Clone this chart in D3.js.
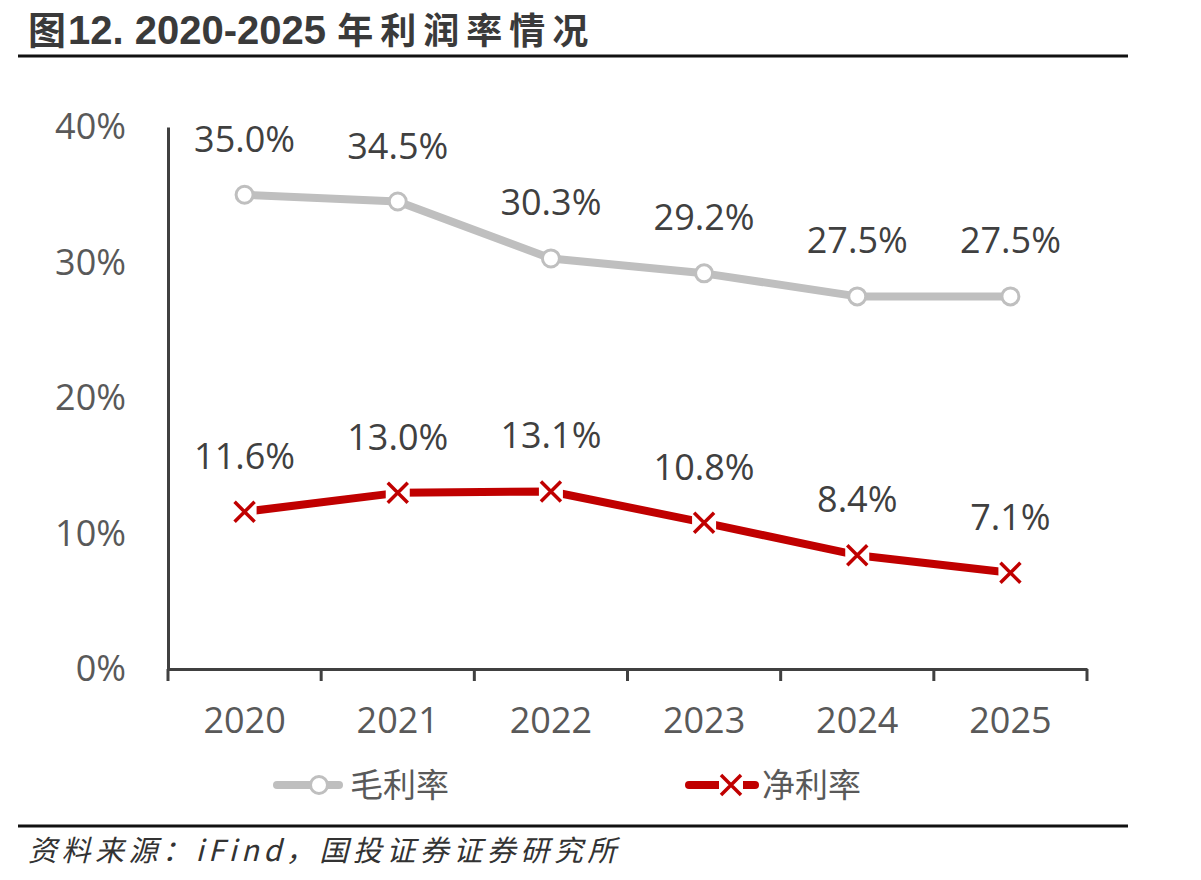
<!DOCTYPE html>
<html>
<head>
<meta charset="utf-8">
<script src="https://cdn.jsdelivr.net/npm/d3@7"></script>
<style>
  body { margin: 0; background: #fff; }
  svg { display: block; }
</style>
</head>
<body>
<script>
// data
var years = ["2020", "2021", "2022", "2023", "2024", "2025"];
var grossMargin = [35.0, 34.5, 30.3, 29.2, 27.5, 27.5];
var netMargin = [11.6, 13.0, 13.1, 10.8, 8.4, 7.1];
var yTicks = [0, 10, 20, 30, 40];

var W = 1201, H = 880;
var numFont = "'Open Sans', 'Noto Sans', sans-serif";
var cjkFont = "'Noto Sans CJK SC', sans-serif";

var svg = d3.select("body").append("svg")
  .attr("width", W)
  .attr("height", H);

// title + rules
var title = svg.append("text")
  .attr("x", 28)
  .attr("y", 44)
  .attr("font-family", "'Liberation Sans', 'Noto Sans CJK SC', sans-serif")
  .attr("font-weight", "bold")
  .attr("fill", "#3a3a3a");
title.append("tspan")
  .attr("font-family", cjkFont)
  .attr("font-size", 38)
  .text("图");
title.append("tspan")
  .attr("font-size", 40)
  .attr("dx", 2)
  .text("12. 2020-2025 ");
title.append("tspan")
  .attr("font-family", cjkFont)
  .attr("font-size", 36)
  .attr("letter-spacing", 7)
  .text("年利润率情况");

svg.append("line")
  .attr("x1", 18).attr("x2", 1128)
  .attr("y1", 56).attr("y2", 56)
  .attr("stroke", "#111").attr("stroke-width", 3);

svg.append("line")
  .attr("x1", 18).attr("x2", 1128)
  .attr("y1", 826).attr("y2", 826)
  .attr("stroke", "#111").attr("stroke-width", 3);

svg.append("text")
  .attr("x", 28)
  .attr("y", 861)
  .attr("font-family", cjkFont)
  .attr("font-style", "italic")
  .attr("font-size", 29)
  .attr("letter-spacing", 4.5)
  .attr("fill", "#333")
  .text("资料来源：iFind，国投证券证券研究所");

// scales
var x = d3.scaleBand()
  .domain(years)
  .range([168, 1087]);

var y = d3.scaleLinear()
  .domain([0, 40])
  .range([669, 127]);

var cx = function (d, i) { return x(years[i]) + x.bandwidth() / 2; };

// y axis: just a line + labels
var yAxis = svg.append("g")
  .attr("transform", "translate(168,0)")
  .call(d3.axisLeft(y).tickValues(yTicks).tickSize(0).tickPadding(42)
    .tickFormat(function (d) { return d + "%"; }));
yAxis.select(".domain").attr("stroke", "#404040").attr("stroke-width", 3);
yAxis.selectAll("text")
  .attr("font-family", numFont)
  .attr("font-size", 36)
  .attr("fill", "#595959");

// x axis
var xAxis = svg.append("g")
  .attr("transform", "translate(0,669)")
  .call(d3.axisBottom(x).tickSize(0).tickPadding(38));
xAxis.select(".domain").attr("stroke", "#404040").attr("stroke-width", 3);
xAxis.selectAll("text")
  .attr("font-family", numFont)
  .attr("font-size", 36)
  .attr("fill", "#595959");

// x tick marks at band boundaries
var bounds = years.map(function (d) { return x(d); }).concat([x.range()[1]]);
svg.append("g").selectAll("line")
  .data(bounds)
  .enter()
  .append("line")
  .attr("x1", function (d) { return d; })
  .attr("x2", function (d) { return d; })
  .attr("y1", 669)
  .attr("y2", 681)
  .attr("stroke", "#404040")
  .attr("stroke-width", 3);

var line = d3.line()
  .x(cx)
  .y(function (d) { return y(d); });

// gross margin
svg.append("path")
  .datum(grossMargin)
  .attr("d", line)
  .attr("fill", "none")
  .attr("stroke", "#bfbfbf")
  .attr("stroke-width", 8)
  .attr("stroke-linejoin", "round");

svg.append("g").selectAll("circle")
  .data(grossMargin)
  .enter()
  .append("circle")
  .attr("cx", cx)
  .attr("cy", function (d) { return y(d); })
  .attr("r", 8.5)
  .attr("fill", "#fff")
  .attr("stroke", "#bfbfbf")
  .attr("stroke-width", 3);

// net margin
svg.append("path")
  .datum(netMargin)
  .attr("d", line)
  .attr("fill", "none")
  .attr("stroke", "#c00000")
  .attr("stroke-width", 8)
  .attr("stroke-linejoin", "round");

function drawCross(g, px, py) {
  g.append("rect")
    .attr("x", px - 12).attr("y", py - 12)
    .attr("width", 24).attr("height", 24)
    .attr("fill", "#fff");
  g.append("path")
    .attr("d", "M" + (px - 10) + "," + (py - 10) + "L" + (px + 10) + "," + (py + 10) +
      "M" + (px + 10) + "," + (py - 10) + "L" + (px - 10) + "," + (py + 10))
    .attr("stroke", "#c00000")
    .attr("stroke-width", 3.5)
    .attr("fill", "none");
}

var crosses = svg.append("g");
netMargin.forEach(function (d, i) {
  drawCross(crosses, cx(d, i), y(d));
});

// data labels
function addLabels(data) {
  svg.append("g").selectAll("text")
    .data(data)
    .enter()
    .append("text")
    .attr("x", cx)
    .attr("y", function (d) { return y(d) - 43; })
    .attr("text-anchor", "middle")
    .attr("font-family", numFont)
    .attr("font-size", 36)
    .attr("fill", "#404040")
    .text(function (d) { return d.toFixed(1) + "%"; });
}
addLabels(grossMargin);
addLabels(netMargin);

// legend
var lg = svg.append("g");
lg.append("line")
  .attr("x1", 277).attr("x2", 339)
  .attr("y1", 785).attr("y2", 785)
  .attr("stroke", "#bfbfbf").attr("stroke-width", 8)
  .attr("stroke-linecap", "round");
lg.append("circle")
  .attr("cx", 319).attr("cy", 785).attr("r", 8.5)
  .attr("fill", "#fff").attr("stroke", "#bfbfbf").attr("stroke-width", 3);
lg.append("text")
  .attr("x", 350).attr("y", 797)
  .attr("font-family", cjkFont)
  .attr("font-size", 33)
  .attr("fill", "#595959")
  .text("毛利率");

lg.append("line")
  .attr("x1", 689).attr("x2", 755)
  .attr("y1", 785).attr("y2", 785)
  .attr("stroke", "#c00000").attr("stroke-width", 8)
  .attr("stroke-linecap", "round");
drawCross(lg, 731, 785);
lg.append("text")
  .attr("x", 762).attr("y", 797)
  .attr("font-family", cjkFont)
  .attr("font-size", 33)
  .attr("fill", "#595959")
  .text("净利率");
</script>
</body>
</html>
